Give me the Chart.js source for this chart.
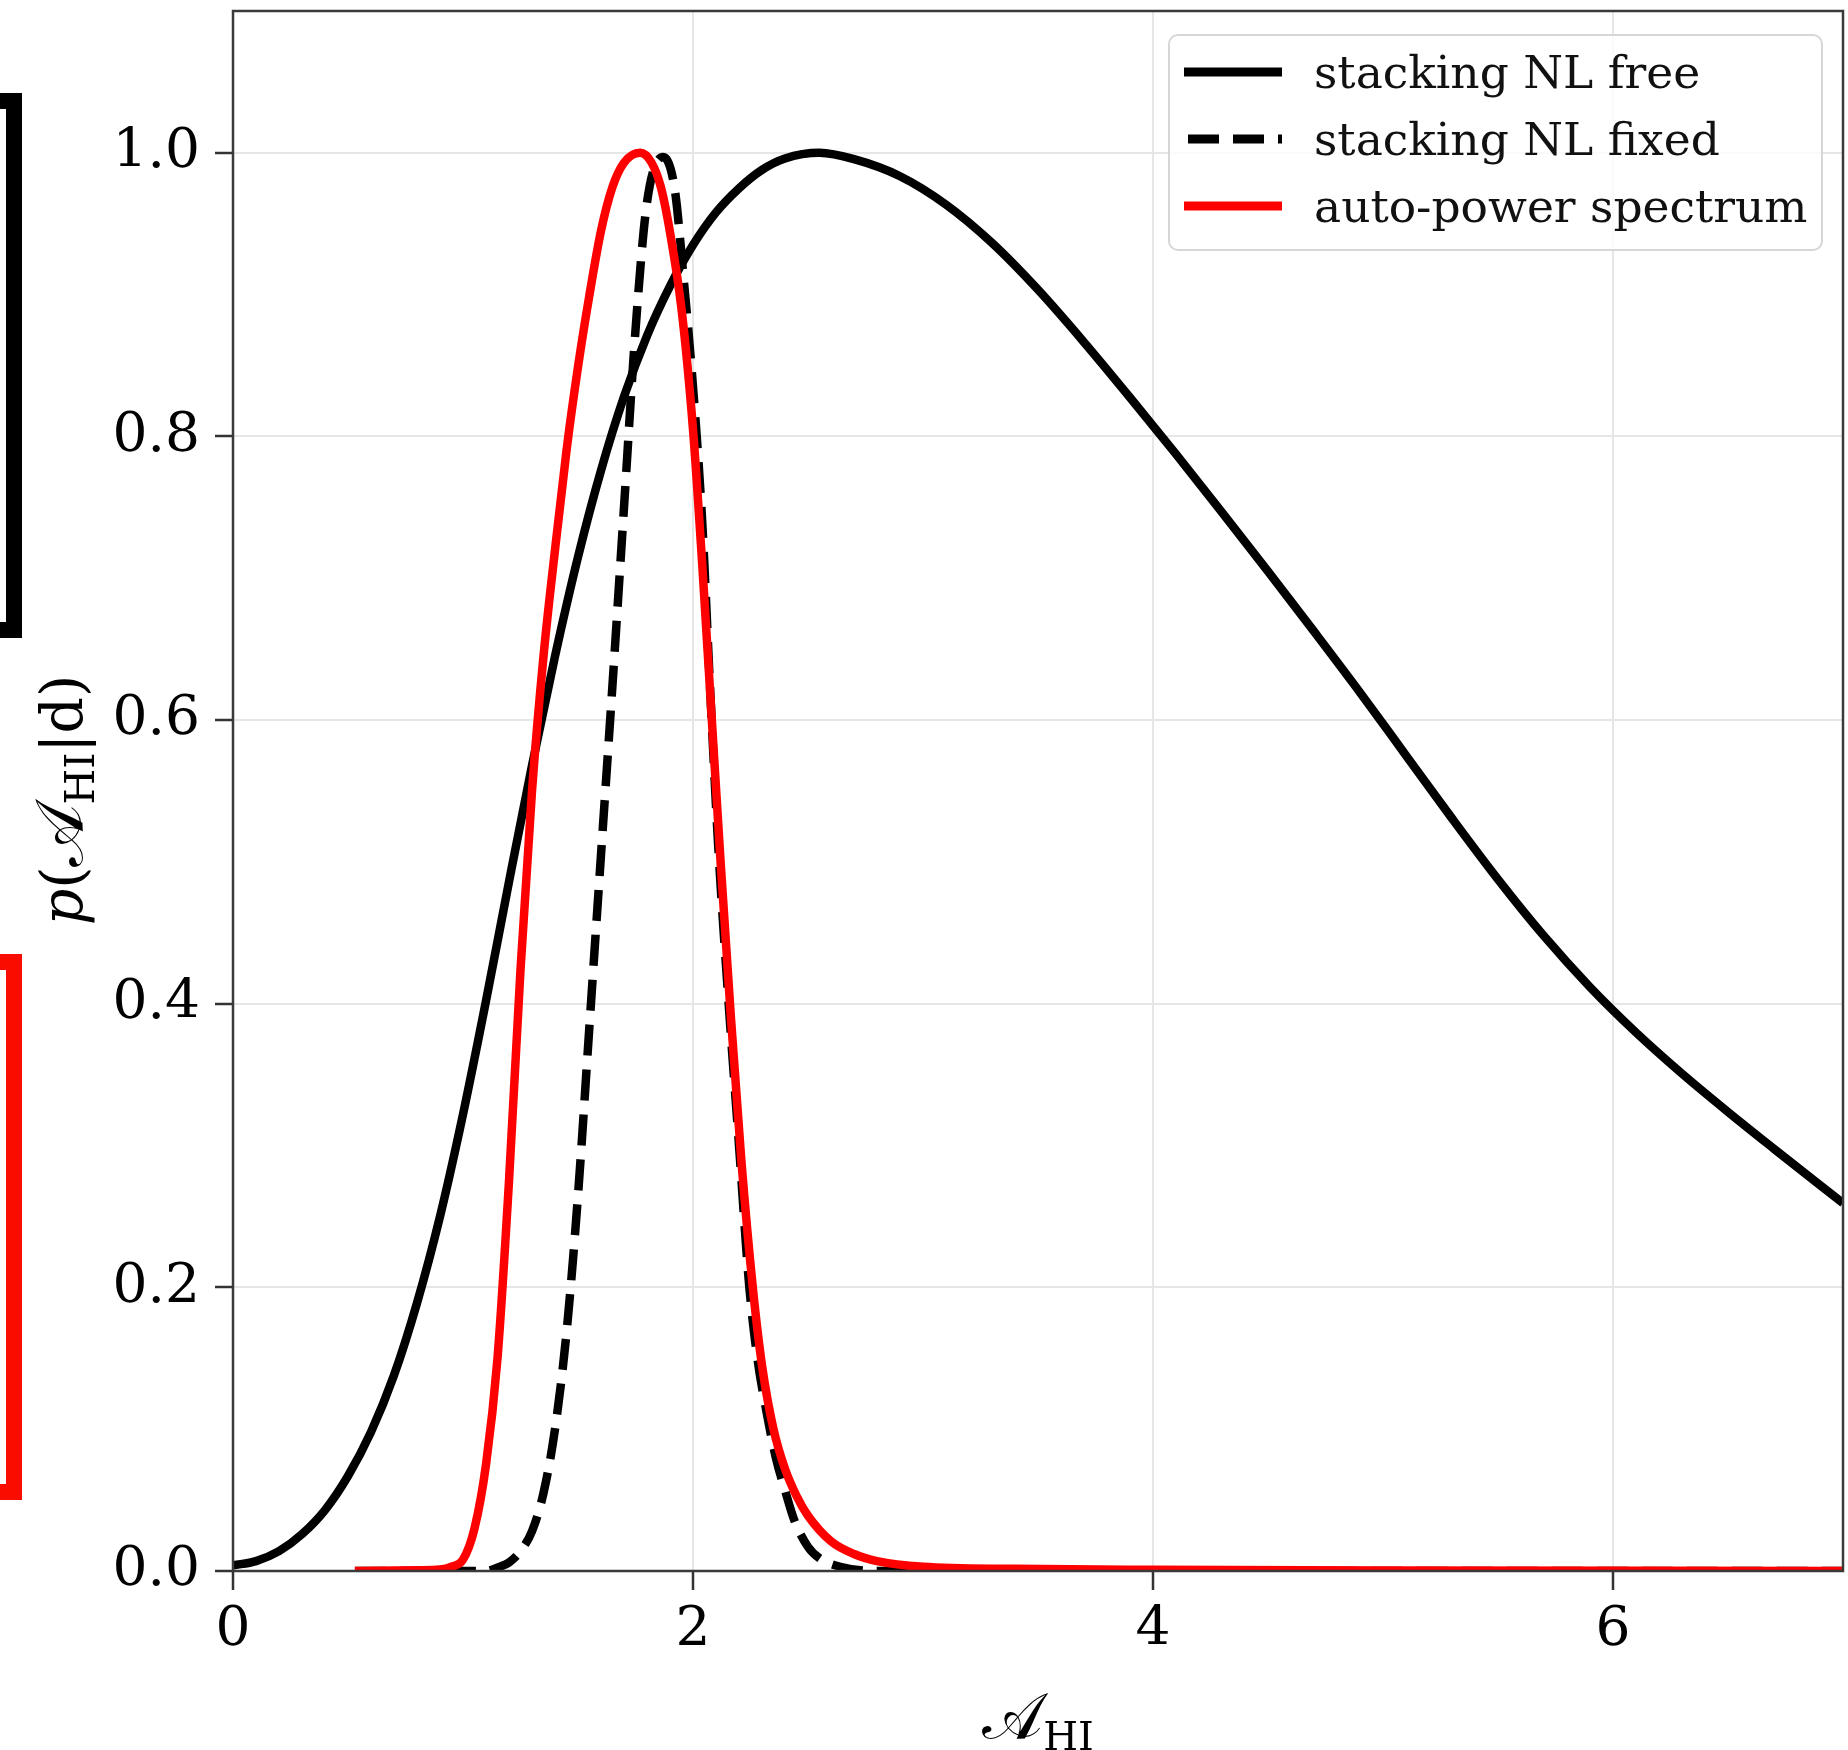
<!DOCTYPE html>
<html>
<head>
<meta charset="utf-8">
<script src="https://cdn.jsdelivr.net/npm/chart.js@4.4.0/dist/chart.umd.min.js"></script>
<style>
  html, body { margin: 0; padding: 0; background: #fff; }
  #wrap { width: 1848px; height: 1750px; }
</style>
</head>
<body>
<div id="wrap"><canvas id="chart" width="1848" height="1750"></canvas></div>
<script>
// DATA
const xTicks = [0, 2, 4, 6];
const yTicks = [0, 0.2, 0.4, 0.6, 0.8, 1.0];
const seriesLabels = ['stacking NL free', 'stacking NL fixed', 'auto-power spectrum'];

// stacking NL free (black solid)
const xFree = [0, 0.1, 0.2, 0.3, 0.4, 0.5, 0.6, 0.7, 0.8, 0.9, 1.0, 1.1, 1.2, 1.3, 1.4, 1.5, 1.6, 1.7, 1.8, 1.9, 2.0, 2.1, 2.2, 2.3, 2.4, 2.55, 2.7, 2.9, 3.1, 3.3, 3.5, 3.7, 3.9, 4.1, 4.3, 4.5, 4.7, 4.9, 5.1, 5.3, 5.5, 5.7, 5.9, 6.1, 6.3, 6.5, 6.7, 6.9, 7.0];
const yFree = [0.004, 0.007, 0.014, 0.026, 0.043, 0.067, 0.098, 0.138, 0.189, 0.25, 0.322, 0.402, 0.486, 0.568, 0.645, 0.715, 0.776, 0.828, 0.871, 0.906, 0.935, 0.958, 0.975, 0.988, 0.996, 1.0, 0.9955, 0.9835, 0.9635, 0.9365, 0.9035, 0.8665, 0.8275, 0.7875, 0.7465, 0.7049, 0.6625, 0.6195, 0.5751, 0.5307, 0.4877, 0.4477, 0.4117, 0.3797, 0.3507, 0.3237, 0.2977, 0.2721, 0.2594];

// stacking NL fixed (black dashed)
const xFixed = [0.53, 1.1, 1.16, 1.2, 1.25, 1.3, 1.35, 1.4, 1.45, 1.5, 1.55, 1.6, 1.65, 1.7, 1.75, 1.8, 1.87, 1.92, 1.96, 2.0, 2.04, 2.075, 2.11, 2.155, 2.2, 2.245, 2.28, 2.32, 2.36, 2.4, 2.44, 2.5, 2.55, 2.64, 2.8, 7.0];
const yFixed = [0, 0, 0.003, 0.006, 0.014, 0.028, 0.055, 0.1, 0.168, 0.265, 0.385, 0.505, 0.625, 0.75, 0.875, 0.965, 0.997, 0.975, 0.91, 0.835, 0.74, 0.62, 0.51, 0.4, 0.3, 0.2, 0.15, 0.112, 0.08, 0.057, 0.036, 0.017, 0.009, 0.003, 0, 0];

// auto-power spectrum (red)
const xAuto = [0.53, 0.8, 0.9, 0.95, 1.0, 1.05, 1.1, 1.15, 1.2, 1.25, 1.3, 1.35, 1.4, 1.45, 1.5, 1.55, 1.6, 1.65, 1.7, 1.77, 1.82, 1.86, 1.9, 1.95, 2.0, 2.04, 2.08, 2.12, 2.165, 2.21, 2.26, 2.3, 2.35, 2.4, 2.45, 2.5, 2.6, 2.7, 2.8, 3.0, 3.4, 4.0, 5.0, 7.0];
const yAuto = [0, 0.0005, 0.001, 0.003, 0.008, 0.03, 0.075, 0.15, 0.275, 0.424, 0.55, 0.645, 0.72, 0.79, 0.849, 0.9, 0.945, 0.976, 0.993, 1.0, 0.993, 0.976, 0.944, 0.89, 0.805, 0.71, 0.605, 0.5, 0.39, 0.29, 0.2, 0.145, 0.1, 0.072, 0.053, 0.039, 0.021, 0.012, 0.007, 0.003, 0.0015, 0.0008, 0.0003, 0];

const SERIF = '"DejaVu Serif", "Liberation Serif", serif';
const MATH = '"DejaVu Serif", "DejaVu Sans", "Noto Sans", serif';
const LW = 8.5;
const DASH = [31, 14];

const pts = (xs, ys) => xs.map((x, i) => ({ x: x, y: ys[i] }));

// draw a row of text runs (for sub-scripts), centred on cx
function drawRuns(ctx, runs, cx, baseY) {
  let total = 0;
  runs.forEach(r => { ctx.font = r.font; r.w = ctx.measureText(r.t).width; total += r.w; });
  let x = cx - total / 2;
  ctx.textAlign = 'left';
  ctx.textBaseline = 'alphabetic';
  runs.forEach(r => {
    ctx.font = r.font;
    ctx.fillText(r.t, x, baseY + (r.dy || 0));
    x += r.w;
  });
}

// the two cut-off boxes on the left edge
const brackets = {
  id: 'brackets',
  afterDraw(chart) {
    const ctx = chart.ctx;
    ctx.save();
    ctx.lineWidth = 16;
    ctx.strokeStyle = '#000';
    ctx.strokeRect(-100, 101, 114, 529);
    ctx.strokeStyle = '#fa0c00';
    ctx.strokeRect(-100, 962, 114, 530);
    ctx.restore();
  }
};

// frame + legend box like matplotlib
const frameLegend = {
  id: 'frameLegend',
  afterDatasetsDraw(chart) {
    const ctx = chart.ctx;
    const a = chart.chartArea;
    ctx.save();
    ctx.strokeStyle = '#3a3a3a';
    ctx.lineWidth = 2.5;
    ctx.strokeRect(a.left, a.top, a.right - a.left, a.bottom - a.top);

    // legend
    const bx = 1169, by = 35, bw = 653, bh = 215;
    ctx.beginPath();
    ctx.roundRect(bx, by, bw, bh, 9);
    ctx.fillStyle = 'rgba(255,255,255,0.8)';
    ctx.fill();
    ctx.strokeStyle = '#d6d6d6';
    ctx.lineWidth = 2;
    ctx.stroke();

    const rows = [72, 139, 206];
    chart.data.datasets.slice().sort((p, q) => p.legendIndex - q.legendIndex).forEach((ds, i) => {
      const y = rows[i];
      ctx.beginPath();
      ctx.setLineDash(ds.borderDash || []);
      ctx.lineDashOffset = 0;
      ctx.strokeStyle = ds.borderColor;
      ctx.lineWidth = 9;
      ctx.moveTo(ds.borderDash ? 1188 : 1184, y);
      ctx.lineTo(1282, y);
      ctx.stroke();
      ctx.setLineDash([]);
      ctx.fillStyle = '#111';
      ctx.font = '45.5px ' + SERIF;
      ctx.textAlign = 'left';
      ctx.textBaseline = 'middle';
      ctx.fillText(ds.label, 1314, y + 4);
    });
    ctx.restore();
  }
};

// axis titles with subscripts
const axisTitles = {
  id: 'axisTitles',
  afterDraw(chart) {
    const ctx = chart.ctx;
    ctx.save();
    ctx.fillStyle = '#000';
    drawRuns(ctx, [
      { t: '\u{1D49C}', font: '64px ' + MATH },
      { t: 'HI', font: '40px ' + SERIF, dy: 12 }
    ], 1038, 1738);

    ctx.translate(82, 800);
    ctx.rotate(-Math.PI / 2);
    drawRuns(ctx, [
      { t: 'p', font: 'italic 57px ' + SERIF },
      { t: '(', font: '57px ' + SERIF },
      { t: '\u{1D49C}', font: '66px ' + MATH },
      { t: 'HI', font: '41px ' + SERIF, dy: 12 },
      { t: '|', font: '57px ' + SERIF },
      { t: 'd', font: '57px ' + SERIF },
      { t: ')', font: '57px ' + SERIF }
    ], 0, 0);
    ctx.restore();
  }
};

const ctx = document.getElementById('chart').getContext('2d');
new Chart(ctx, {
  type: 'line',
  data: {
    datasets: [
      {
        label: seriesLabels[2], legendIndex: 2, order: 0,
        data: pts(xAuto, yAuto),
        borderColor: '#ff0000', borderWidth: LW, clip: 0
      },
      {
        label: seriesLabels[1], legendIndex: 1, order: 1,
        data: pts(xFixed, yFixed),
        borderColor: '#000000', borderWidth: LW, borderDash: DASH, borderCapStyle: 'butt', clip: 0
      },
      {
        label: seriesLabels[0], legendIndex: 0, order: 2,
        data: pts(xFree, yFree),
        borderColor: '#000000', borderWidth: LW, clip: 0
      }
    ]
  },
  options: {
    responsive: false,
    animation: false,
    devicePixelRatio: 1,
    layout: { padding: { top: 11, right: 5, left: 0, bottom: 0 } },
    elements: {
      point: { radius: 0 },
      line: { cubicInterpolationMode: 'monotone', fill: false, borderJoinStyle: 'round' }
    },
    plugins: { legend: { display: false }, tooltip: { enabled: false } },
    scales: {
      x: {
        type: 'linear', min: 0, max: 7,
        afterBuildTicks: s => { s.ticks = xTicks.map(v => ({ value: v })); },
        afterFit: s => {
          s.height = 179;
          s.paddingLeft = 0; s.paddingRight = 0; s.paddingTop = 0; s.paddingBottom = 0;
        },
        ticks: {
          autoSkip: false, maxRotation: 0, padding: 8, color: '#000',
          font: { family: SERIF, size: 55 },
          callback: v => String(v)
        },
        grid: { color: '#e6e6e6', lineWidth: 2, tickLength: 19, tickColor: '#333', tickWidth: 2.5 },
        border: { display: false }
      },
      y: {
        type: 'linear', min: 0, max: 1.1,
        afterBuildTicks: s => { s.ticks = yTicks.map(v => ({ value: v })); },
        afterFit: s => {
          s.width = 233;
          s.paddingLeft = 0; s.paddingRight = 0; s.paddingTop = 0; s.paddingBottom = 0;
        },
        ticks: {
          autoSkip: false, padding: 15, color: '#000',
          font: { family: SERIF, size: 55 },
          callback: v => v.toFixed(1)
        },
        grid: { color: '#e6e6e6', lineWidth: 2, tickLength: 18, tickColor: '#333', tickWidth: 2.5 },
        border: { display: false }
      }
    }
  },
  plugins: [brackets, frameLegend, axisTitles]
});
</script>
</body>
</html>
